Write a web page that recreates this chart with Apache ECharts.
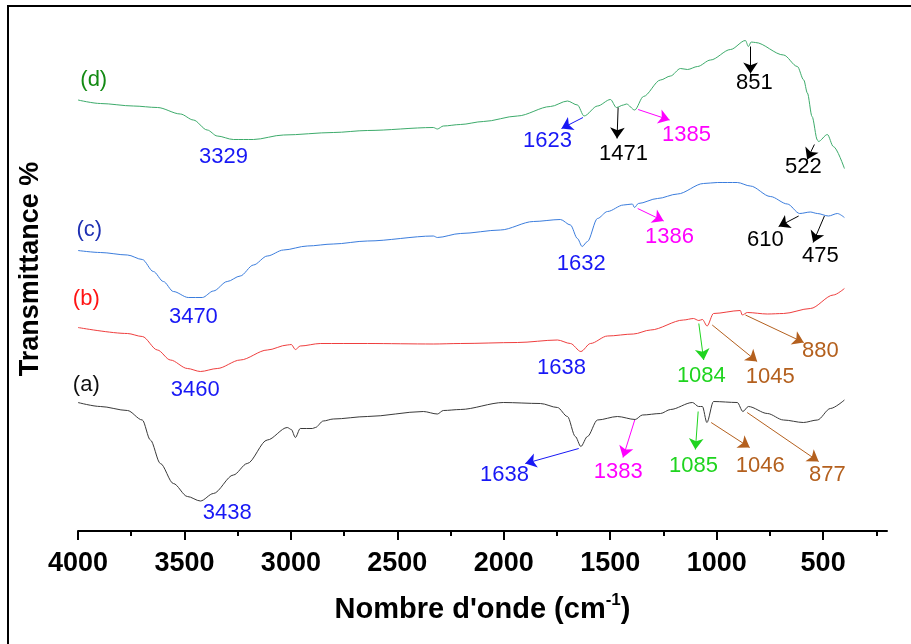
<!DOCTYPE html>
<html>
<head>
    <meta charset="utf-8">
    <title>FTIR</title>
    <script src="https://cdn.jsdelivr.net/npm/echarts@6/dist/echarts.min.js"></script>
    <style>
        html, body { margin: 0; padding: 0; background: #fff; }
        #main { width: 911px; height: 644px; }
    </style>
</head>
<body>
    <div id="main"></div>
    <script type="text/javascript">
    // spectra: [wavenumber cm-1, transmittance (offset, a.u.)]
    var curveD = [[4000,86.2],[3895,85.5],[3740,85.0],[3627,84.7],[3519,83.4],[3458,82.2],[3393,80.2],[3346,79.0],
        [3270,78.3],[3176,78.3],[3035,79.2],[2801,79.7],[2641,80.1],[2331,80.7],[2312,80.4],[2284,81.0],[2204,81.3],
        [2096,81.9],[1936,83.0],[1781,84.9],[1701,86.0],[1654,85.2],[1623,83.0],[1560,85.0],[1499,86.3],[1471,84.7],
        [1438,85.2],[1424,85.4],[1385,84.2],[1344,86.9],[1264,90.2],[1217,91.0],[1170,92.5],[1137,92.3],[1090,92.9],
        [1029,94.2],[935,96.3],[865,98.1],[851,96.9],[838,97.8],[818,97.7],[686,95.2],[621,92.9],[591,90.2],[574,87.6],
        [552,82.9],[527,78.2],[522,77.9],[480,79.3],[452,76.9],[400,72.5]];
    var curveC = [[4000,56.1],[3895,55.7],[3768,55.2],[3698,54.3],[3646,51.9],[3599,49.9],[3552,47.9],[3482,46.7],
        [3416,46.7],[3364,48.0],[3299,49.9],[3238,51.0],[3176,53.2],[3111,55.0],[3035,56.2],[2923,57.0],[2801,57.4],
        [2641,58.0],[2331,59.0],[2312,58.7],[2204,59.5],[2016,60.2],[1861,61.9],[1734,62.3],[1687,61.2],[1654,58.5],
        [1632,56.9],[1607,57.9],[1560,62.5],[1513,63.9],[1438,65.2],[1396,65.4],[1386,64.7],[1368,65.5],[1278,66.5],
        [1184,67.4],[1062,69.5],[997,69.7],[903,69.7],[842,69.0],[748,66.9],[668,65.4],[610,63.5],[560,63.8],
        [527,63.5],[475,63.0],[433,63.5],[400,62.7]];
    var curveB = [[4000,40.7],[3768,39.5],[3698,38.9],[3627,36.2],[3566,34.2],[3486,32.5],[3425,31.9],[3346,32.5],
        [3238,34.2],[3111,36.2],[3017,37.2],[2998,37.3],[2979,36.3],[2956,37.0],[2862,37.5],[2641,37.5],[2331,37.4],
        [2204,37.5],[1936,37.7],[1748,38.2],[1687,37.5],[1638,35.9],[1593,37.5],[1513,39.0],[1391,39.4],[1311,40.2],
        [1156,42.2],[1109,42.5],[1084,42.1],[1067,42.3],[1045,41.0],[1015,43.5],[889,44.1],[880,43.2],[856,43.7],
        [762,43.4],[686,43.5],[560,44.5],[452,47.2],[400,48.5]];
    var curveA = [[4000,25.7],[3895,24.9],[3768,24.1],[3698,22.2],[3660,18.2],[3613,13.5],[3552,9.5],[3486,6.9],
        [3425,6.0],[3364,7.5],[3270,11.2],[3205,13.5],[3111,18.2],[3017,20.7],[2998,20.3],[2979,18.7],[2956,20.5],
        [2899,20.5],[2885,20.7],[2848,22.0],[2801,22.4],[2641,22.9],[2378,23.9],[2312,23.4],[2284,24.1],[2204,24.3],
        [2002,25.7],[1828,25.5],[1748,24.7],[1701,22.9],[1664,18.9],[1638,16.9],[1607,18.9],[1560,22.2],[1466,22.9],
        [1383,22.3],[1349,23.2],[1264,23.5],[1217,24.3],[1114,25.7],[1085,24.9],[1067,24.9],[1046,21.7],[1015,25.9],
        [903,25.7],[877,23.9],[851,24.9],[762,23.5],[686,22.2],[593,21.7],[527,22.2],[466,24.5],[400,26.2]];

    var xTicks = [4000, 3500, 3000, 2500, 2000, 1500, 1000, 500];
    var xMinorTicks = [3750, 3250, 2750, 2250, 1750, 1250, 750, 250];

    // curve names
    var nameD = [[3926, 90.2, '(d)']];
    var nameC = [[3947, 60.2, '(c)']];
    var nameB = [[3961, 46.4, '(b)']];
    var nameA = [[3961, 29.2, '(a)']];

    // peak labels [wavenumber, level, text]
    var blueLabels = [[3317,74.8,'3329'],[1795,78.1,'1623'],[3458,42.8,'3470'],[1636,53.5,'1632'],
        [3449,28.3,'3460'],[1729,32.6,'1638'],[3299,3.6,'3438'],[1997,11.2,'1638']];
    var blackLabels = [[1438,75.4,'1471'],[823,89.7,'851'],[593,72.8,'522'],[771,58.2,'610'],[513,55.1,'475']];
    var magentaLabels = [[1142,79.3,'1385'],[1222,58.8,'1386'],[1462,11.9,'1383']];
    var greenLabels = [[1072,31.0,'1084'],[1109,13.1,'1085']];
    var brownLabels = [[748,30.8,'1045'],[513,36.1,'880'],[795,13.1,'1046'],[480,11.2,'877']];

    // arrows [from, to]
    var blueArrows = [[[1628,82.7],[1729,80.5]], [[1648,16.5],[1899,13.5]]];
    var blackArrows = [[[1463,84.7],[1468,78.5]], [[841,96.9],[841,91.5]], [[541,77.3],[575,74.3]],
        [[615,63.0],[709,60.9]], [[494,63.0],[547,57.7]]];
    var magentaArrows = [[[1369,84.3],[1221,82.2]], [[1371,64.5],[1249,62.0]], [[1385,22.2],[1440,14.7]]];
    var greenArrows = [[[1084,41.5],[1061,34.2]], [[1087,23.9],[1100,16.3]]];
    var brownArrows = [[[1021,41.2],[810,33.9]], [[865,43.2],[591,37.7]], [[1026,21.7],[845,16.7]],
        [[857,23.7],[521,13.9]]];

    var FONT = 'Liberation Sans';

    function spectrum(data, color) {
        return {
            type: 'line', data: data, showSymbol: false, smooth: 0.3, smoothMonotone: 'x',
            lineStyle: { color: color, width: 1 }, silent: true, animation: false, z: 2
        };
    }

    function textLayer(labels, color, size, arrows) {
        var s = {
            type: 'scatter', symbolSize: 1, silent: true, animation: false, z: 5,
            itemStyle: { color: 'rgba(0,0,0,0)', opacity: 1 },
            data: labels,
            label: {
                show: true, position: 'inside', color: color, fontSize: size, fontFamily: FONT, opacity: 1,
                formatter: function (p) { return p.value[2]; }
            }
        };
        if (arrows) {
            s.markLine = {
                silent: true, animation: false, symbol: ['none', 'arrow'], symbolSize: 11,
                label: { show: false },
                itemStyle: { color: color, opacity: 1 },
                lineStyle: { color: color, width: 1, type: 'solid', opacity: 1 },
                data: arrows.map(function (a) { return [{ coord: a[0] }, { coord: a[1] }]; })
            };
        }
        return s;
    }

    var chart = echarts.init(document.getElementById('main'));
    chart.setOption({
        backgroundColor: '#fff',
        animation: false,
        grid: { left: 78, right: 24, top: 31, bottom: 113 },
        xAxis: [{
            type: 'value', inverse: true, min: 200, max: 4000, position: 'bottom',
            name: 'Nombre d\'onde (cm{sup|-1})', nameLocation: 'middle', nameGap: 61,
            nameTextStyle: {
                fontSize: 29, fontWeight: 'bold', fontFamily: FONT, color: '#000', lineHeight: 35,
                rich: { sup: { fontSize: 17, fontWeight: 'bold', fontFamily: FONT, color: '#000', verticalAlign: 'top', lineHeight: 18 } }
            },
            axisLine: { show: true, onZero: false, lineStyle: { color: '#000', width: 2 } },
            axisTick: { show: true, inside: false, customValues: xTicks, length: 9, lineStyle: { color: '#000', width: 2 } },
            axisLabel: {
                customValues: xTicks, fontSize: 27, fontWeight: 'bold', fontFamily: FONT, color: '#000', margin: 19,
                formatter: function (v) { return String(v); }
            },
            splitLine: { show: false }
        }, {
            type: 'value', inverse: true, min: 200, max: 4000, position: 'bottom',
            axisLine: { show: false, onZero: false },
            axisTick: { show: true, inside: false, customValues: xMinorTicks, length: 5, lineStyle: { color: '#000', width: 2 } },
            axisLabel: { show: false },
            splitLine: { show: false }
        }],
        yAxis: {
            type: 'value', min: 0, max: 100, show: false
        },
        graphic: [{
            type: 'rect', shape: { x: 8, y: 6, width: 1000, height: 1000 },
            style: { fill: 'none', stroke: '#000', lineWidth: 2 }, silent: true
        }, {
            type: 'text', x: 31, y: 269, rotation: Math.PI / 2, silent: true,
            style: { text: 'Transmittance %', font: 'bold 27px "Liberation Sans"', fill: '#000', align: 'center', verticalAlign: 'middle' }
        }],
        series: [
            spectrum(curveD, '#3dab6b'),
            spectrum(curveC, '#3b7ddd'),
            spectrum(curveB, '#ef3e3e'),
            spectrum(curveA, '#3a3a3a'),
            textLayer(nameD, '#138a13', 22),
            textLayer(nameC, '#1f30b3', 22),
            textLayer(nameB, '#ff1414', 22),
            textLayer(nameA, '#111111', 22),
            textLayer(blueLabels, '#1818f5', 22, blueArrows),
            textLayer(blackLabels, '#000000', 22, blackArrows),
            textLayer(magentaLabels, '#ff00ff', 22, magentaArrows),
            textLayer(greenLabels, '#1fd41f', 22, greenArrows),
            textLayer(brownLabels, '#b4601e', 22, brownArrows)
        ]
    });
    </script>
</body>
</html>
